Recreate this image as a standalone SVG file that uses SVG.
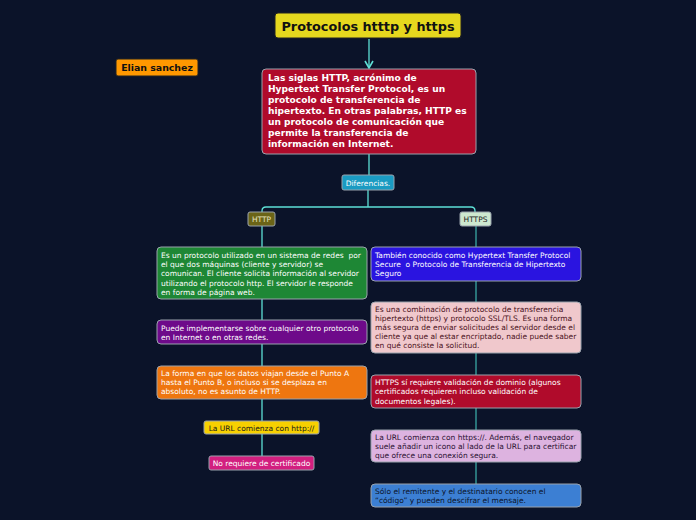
<svg xmlns="http://www.w3.org/2000/svg" width="696" height="520" viewBox="0 0 696 520">
<defs>
<style>
text{font-family:"DejaVu Sans","Liberation Sans",sans-serif;white-space:pre}
.s{font-size:7.5px}
.w{fill:#ffffff}
.d{fill:#1a1a1a}
.box{stroke:#9aa3ad;stroke-width:1}
.c{fill:none;stroke:#5ee0d6;stroke-width:1.3}
.c2{fill:none;stroke:#3aa8a4;stroke-width:1.3}
</style>
<marker id="ah" viewBox="0 0 10 10" refX="9" refY="5" markerWidth="10" markerHeight="10" orient="auto" markerUnits="userSpaceOnUse">
<path d="M2,1 L9,5 L2,9" fill="none" stroke="#5ee0d6" stroke-width="1.6"/>
</marker>
</defs>
<rect width="696" height="520" fill="#0b1329"/>
<g id="connectors">
<path class="c" d="M369,39 V68" marker-end="url(#ah)"/>
<path class="c" d="M369,154 V176"/>
<path class="c" d="M368,190 V207"/>
<path class="c" d="M262,212 V211 Q262,207 266,207 H471 Q475,207 475,211 V212"/>
<path class="c" d="M262,226 V457"/>
<path class="c2" d="M476,226 V485"/>
</g>
<g id="title">
<rect x="275" y="13" width="186" height="25" rx="3" fill="#e6d81e" stroke="#222" stroke-width="1"/>
<text x="368" y="30.5" text-anchor="middle" font-size="12.8" font-weight="bold" fill="#111">Protocolos htttp y https</text>
</g>
<g id="author">
<rect x="116" y="59" width="82" height="17" rx="2" fill="#ff9800" stroke="#222" stroke-width="1"/>
<text x="157" y="71" text-anchor="middle" font-size="9.4" font-weight="bold" fill="#111">Elian sanchez</text>
</g>
<g id="main">
<rect class="box" x="262" y="69" width="214" height="85" rx="4" fill="#b00b2b"/>
<text class="w" font-size="9.1" font-weight="bold">
<tspan x="268" y="81">Las siglas HTTP, acrónimo de</tspan>
<tspan x="268" y="92">Hypertext Transfer Protocol, es un</tspan>
<tspan x="268" y="103">protocolo de transferencia de</tspan>
<tspan x="268" y="114">hipertexto. En otras palabras, HTTP es</tspan>
<tspan x="268" y="125">un protocolo de comunicación que</tspan>
<tspan x="268" y="136">permite la transferencia de</tspan>
<tspan x="268" y="147">información en Internet.</tspan>
</text>
</g>
<g id="diferencias">
<rect class="box" x="342" y="175" width="52" height="15" rx="2" fill="#1a9bc2"/>
<text class="s w" x="368" y="185.5" text-anchor="middle">Diferencias.</text>
</g>
<g id="http">
<rect class="box" x="248" y="212" width="27" height="14" rx="2" fill="#6b6417"/>
<text class="s" x="261.5" y="222" text-anchor="middle" fill="#e8e4c0">HTTP</text>
</g>
<g id="https">
<rect class="box" x="460" y="212" width="31" height="14" rx="2" fill="#cde8cf"/>
<text class="s d" x="475.5" y="222" text-anchor="middle">HTTPS</text>
</g>
<g id="http1">
<rect class="box" x="157" y="247" width="210" height="52" rx="4" fill="#1e8735"/>
<text class="s w">
<tspan x="161" y="258">Es un protocolo utilizado en un sistema de redes  por</tspan>
<tspan x="161" y="267">el que dos máquinas (cliente y servidor) se</tspan>
<tspan x="161" y="276">comunican. El cliente solicita información al servidor</tspan>
<tspan x="161" y="286">utilizando el protocolo http. El servidor le responde</tspan>
<tspan x="161" y="295">en forma de página web.</tspan>
</text>
</g>
<g id="http2">
<rect class="box" x="157" y="320" width="210" height="24" rx="4" fill="#6e0a8a"/>
<text class="s w">
<tspan x="161" y="331">Puede implementarse sobre cualquier otro protocolo</tspan>
<tspan x="161" y="340">en Internet o en otras redes.</tspan>
</text>
</g>
<g id="http3">
<rect class="box" x="157" y="366" width="210" height="33" rx="4" fill="#ee7610"/>
<text class="s w">
<tspan x="161" y="376">La forma en que los datos viajan desde el Punto A</tspan>
<tspan x="161" y="385">hasta el Punto B, o incluso si se desplaza en</tspan>
<tspan x="161" y="394">absoluto, no es asunto de HTTP.</tspan>
</text>
</g>
<g id="http4">
<rect class="box" x="204" y="421" width="115" height="13" rx="2" fill="#f7d000"/>
<text class="s d" x="261.5" y="430.5" text-anchor="middle">La URL comienza con http://</text>
</g>
<g id="http5">
<rect class="box" x="209" y="456" width="105" height="14" rx="2" fill="#d21f7f"/>
<text class="s w" x="261.5" y="466" text-anchor="middle">No requiere de certificado</text>
</g>
<g id="https1">
<rect class="box" x="371" y="247" width="210" height="34" rx="4" fill="#2a14e0"/>
<text class="s w">
<tspan x="375" y="257.5">También conocido como Hypertext Transfer Protocol</tspan>
<tspan x="375" y="266.5">Secure  o Protocolo de Transferencia de Hipertexto</tspan>
<tspan x="375" y="275.5">Seguro</tspan>
</text>
</g>
<g id="https2">
<rect class="box" x="371" y="302" width="210" height="51" rx="4" fill="#f0c8cc"/>
<text class="s" fill="#4a1020">
<tspan x="375" y="312">Es una combinación de protocolo de transferencia</tspan>
<tspan x="375" y="321">hipertexto (https) y protocolo SSL/TLS. Es una forma</tspan>
<tspan x="375" y="330">más segura de enviar solicitudes al servidor desde el</tspan>
<tspan x="375" y="339">cliente ya que al estar encriptado, nadie puede saber</tspan>
<tspan x="375" y="348">en qué consiste la solicitud.</tspan>
</text>
</g>
<g id="https3">
<rect class="box" x="371" y="375" width="210" height="33" rx="4" fill="#b00b2b"/>
<text class="s w">
<tspan x="375" y="385">HTTPS sí requiere validación de dominio (algunos</tspan>
<tspan x="375" y="394">certificados requieren incluso validación de</tspan>
<tspan x="375" y="404">documentos legales).</tspan>
</text>
</g>
<g id="https4">
<rect class="box" x="371" y="430" width="210" height="32" rx="4" fill="#ddb3e0"/>
<text class="s" fill="#2a1030">
<tspan x="375" y="440">La URL comienza con https://. Además, el navegador</tspan>
<tspan x="375" y="449">suele añadir un icono al lado de la URL para certificar</tspan>
<tspan x="375" y="458">que ofrece una conexión segura.</tspan>
</text>
</g>
<g id="https5">
<rect class="box" x="371" y="484" width="210" height="23" rx="4" fill="#3c7fd3"/>
<text class="s" fill="#0b1329">
<tspan x="375" y="493.5">Sólo el remitente y el destinatario conocen el</tspan>
<tspan x="375" y="502.5">“código” y pueden descifrar el mensaje.</tspan>
</text>
</g>
</svg>
